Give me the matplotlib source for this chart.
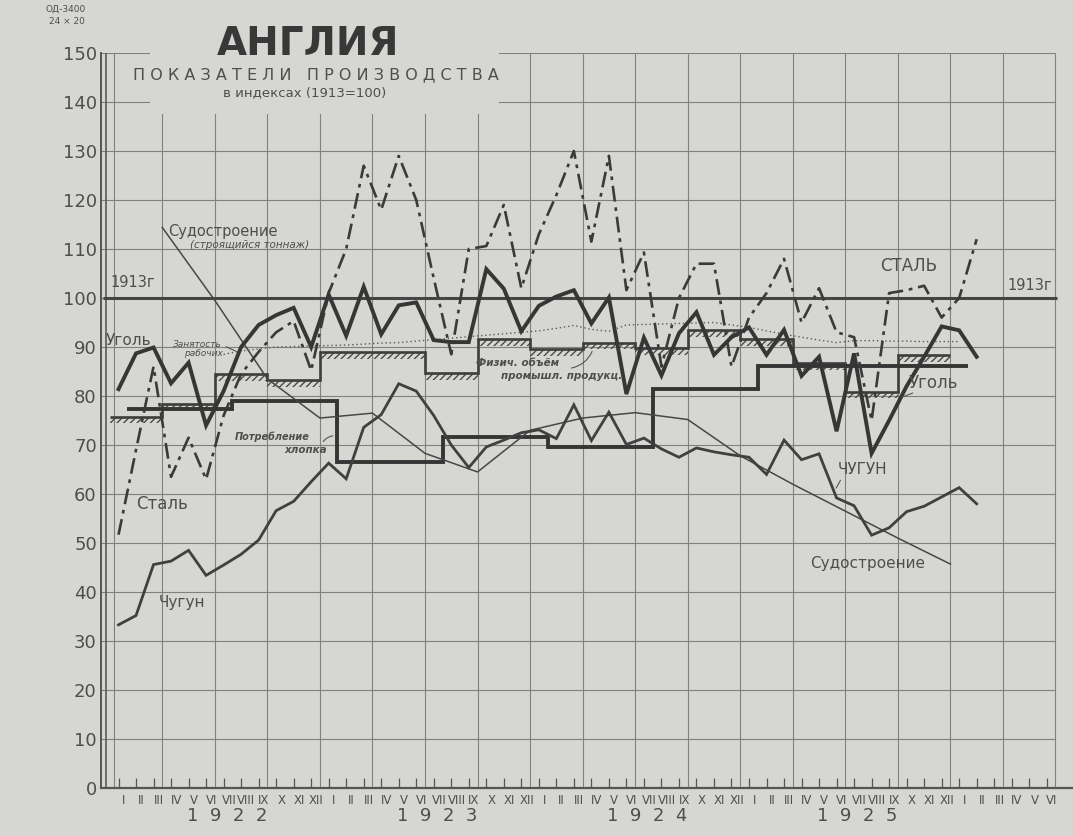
import numpy as np
import matplotlib
matplotlib.use("Agg")
import matplotlib.pyplot as plt
from matplotlib.patches import Rectangle

plt.rcParams['font.family'] = ['DejaVu Sans']

# ---------------- data (month index 0 = January 1922) ----------------
coal = [81.4, 88.7, 89.9, 82.6, 86.8, 74.0, 81.0, 90.0, 94.5, 96.5, 98.0, 90.0,
        100.7, 92.3, 102.3, 92.6, 98.5, 99.1, 91.4, 91.0, 91.0, 105.9, 101.9, 93.2,
        98.4, 100.3, 101.6, 94.8, 100.1, 80.4, 91.9, 84.2, 92.8, 97.1, 88.4, 92.0,
        94.0, 88.4, 93.5, 84.1, 88.0, 72.8, 88.7, 68.3, 75.0, 82.0, 88.0, 94.2,
        93.4, 88.0]
steel = [51.7, 69.0, 86.0, 63.5, 71.5, 63.0, 76.0, 84.5, 89.0, 93.0, 95.3, 85.2,
         101.0, 110.0, 127.0, 118.0, 129.0, 120.0, 104.0, 88.5, 110.0, 110.6, 119.0, 102.0,
         113.0, 121.0, 130.0, 111.5, 129.0, 101.6, 109.3, 86.0, 100.0, 107.0, 107.0, 86.0,
         96.0, 101.0, 108.0, 95.0, 102.0, 93.0, 92.0, 75.0, 101.0, 101.6, 102.5, 96.0,
         100.0, 112.0]
pig_iron = [33.3, 35.2, 45.6, 46.3, 48.5, 43.4, 45.5, 47.7, 50.6, 56.6, 58.5, 62.5,
            66.3, 63.1, 73.6, 76.2, 82.5, 81.0, 76.0, 70.0, 65.4, 69.6, 71.0, 72.5,
            73.1, 71.3, 78.2, 70.9, 76.7, 70.1, 71.4, 69.2, 67.5, 69.4, 68.6, 68.0,
            67.5, 64.0, 71.0, 67.0, 68.2, 59.2, 57.6, 51.6, 53.1, 56.4, 57.5, 59.4,
            61.3, 58.0]
employment_start = 6  # July 1922
employment = [88.5, 89.2, 89.6, 90.0, 90.1, 90.2,
              90.3, 90.4, 90.6, 90.8, 90.9, 91.2, 91.5, 91.8, 92.1, 92.4, 92.7, 93.0,
              93.3, 93.8, 94.4, 93.6, 93.2, 94.5, 94.6, 94.7, 94.8, 94.9, 95.0, 94.5,
              94.0, 93.3, 92.6, 92.0, 91.4, 90.9, 91.3, 91.3, 91.2, 91.2, 91.1, 91.1,
              91.1]
# quarterly (Q1 1922 .. Q4 1925)
phys_volume = [75.8, 78.4, 84.5, 83.3, 89.0, 89.0, 84.7, 91.6,
               89.5, 90.9, 89.7, 93.4, 91.6, 86.8, 80.9, 88.3]
# half-yearly steps
cotton = [77.4, 79.0, 66.5, 71.7, 69.5, 81.5, 86.2, 86.2]
# quarterly points (end of quarter)
shipbuilding = [114.4, 99.5, 83.5, 75.5, 76.5, 68.3, 64.5, 73.0,
                75.5, 76.6, 75.2, 67.8, 62.0, 56.5, 51.0, 45.7]
base_1913 = 100

roman = ["I", "II", "III", "IV", "V", "VI", "VII", "VIII", "IX", "X", "XI", "XII"]
years = ["1922", "1923", "1924", "1925"]
n_months = 54  # Jan 1922 .. Jun 1926

# ---------------- figure ----------------
BG = '#d6d6d2'
TXT = '#4e4e4e'
GRID = '#808080'

fig = plt.figure(figsize=(10.73, 8.36), dpi=100)
fig.patch.set_facecolor(BG)
ax = fig.add_axes([101 / 1073, 1 - 788 / 836, 1 - 101 / 1073, (788 - 53) / 836])
ax.set_facecolor(BG)
ax.set_xlim(-1, 54.5)
ax.set_ylim(0, 150)
for s in ['top', 'right']:
    ax.spines[s].set_visible(False)
ax.spines['left'].set_linewidth(1.4)
ax.spines['left'].set_color('#555555')
ax.spines['bottom'].set_linewidth(1.6)
ax.spines['bottom'].set_color('#555555')

# grid
ax.hlines(np.arange(10, 151, 10), -1, 53.5, color=GRID, lw=0.8, zorder=1)
ax.vlines(np.arange(2.5, 54, 3), 0, 150, color=GRID, lw=0.8, zorder=1)
ax.vlines(-0.72, 0, 150, color='#5a5a5a', lw=1.2, zorder=1)
ax.vlines(-0.25, 0, 150, color=GRID, lw=0.8, zorder=1)
# blank title block
ax.add_patch(Rectangle((1.8, 137.5), 19.9, 15, facecolor=BG, edgecolor='none',
                       zorder=1.5, clip_on=False))

# ticks
ax.set_xticks(np.arange(n_months))
ax.tick_params(axis='x', direction='in', length=7, width=0.9, colors='#555555',
               labelbottom=False)
ax.set_yticks(np.arange(0, 151, 10))
ax.tick_params(axis='y', length=0, pad=3, labelsize=13, labelcolor=TXT)

for j in range(n_months):
    ax.text(j + 0.3, -1.3, roman[j % 12], ha='center', va='top', fontsize=8.5,
            color=TXT, clip_on=False)
for i, y in enumerate(years):
    ax.text(6.2 + 12 * i, -5.8, '  '.join(y), ha='center', va='center',
            fontsize=13, color=TXT, clip_on=False)

# ---------------- series ----------------
x = np.arange(len(coal))
ax.hlines(base_1913, -0.9, 53.6, color='#454545', lw=2.2, zorder=4)

pv_edges = -0.5 + 3 * np.arange(len(phys_volume) + 1)
pv_ext = np.r_[phys_volume, phys_volume[-1]]
ax.fill_between(pv_edges, pv_ext - 1.4, pv_ext, step='post', facecolor='none',
                edgecolor='#4a4a4a', hatch='/////', linewidth=0, zorder=3)
ax.stairs(phys_volume, pv_edges, baseline=None, color='#3d3d3d', lw=1.9, zorder=4)

ct_edges = 0.5 + 6 * np.arange(len(cotton) + 1)
ax.stairs(cotton, ct_edges, baseline=None, color='#353535', lw=2.8, zorder=4)

ship_x = 2.5 + 3 * np.arange(len(shipbuilding))
ax.plot(ship_x, shipbuilding, color='#474747', lw=1.1, zorder=4)

emp_x = employment_start + np.arange(len(employment))
ax.plot(emp_x, employment, color='#5a5a5a', lw=1.0, ls=(0, (1, 2)), zorder=4)

ax.plot(x, pig_iron, color='#404040', lw=2.0, zorder=5, solid_joinstyle='miter')
ax.plot(x, steel, color='#3a3a3a', lw=1.9, ls=(0, (6, 2.2, 1.4, 2.2)), zorder=5)
ax.plot(x, coal, color='#363636', lw=2.8, zorder=6, solid_joinstyle='miter')

# ---------------- texts ----------------
ax.text(10.8, 151.8, 'АНГЛИЯ', ha='center', va='center', fontsize=28,
        fontweight='heavy', color='#383838', clip_on=False, zorder=7)
ax.text(11.3, 145.5, ' '.join('ПОКАЗАТЕЛИ') + '   ' + ' '.join('ПРОИЗВОДСТВА'),
        ha='center', va='center', fontsize=11.5, color=TXT, zorder=7)
ax.text(10.6, 141.9, 'в индексах (1913=100)', ha='center', va='center',
        fontsize=9.5, color=TXT, zorder=7)

lab = dict(color=TXT, zorder=7)
ax.text(5.96, 113.6, 'Судостроение', ha='center', va='center', fontsize=10.5, **lab)
ax.text(7.5, 110.9, '(строящийся тоннаж)', ha='center', va='center', fontsize=7.5,
        style='italic', **lab)
ax.text(0.82, 103.2, '1913г', ha='center', va='center', fontsize=10.5, **lab)
ax.text(52.05, 102.5, '1913г', ha='center', va='center', fontsize=10.5, **lab)
ax.text(0.58, 91.4, 'Уголь', ha='center', va='center', fontsize=11, **lab)
ax.text(46.5, 82.6, 'Уголь', ha='center', va='center', fontsize=12, **lab)
ax.text(4.5, 90.6, 'Занятость', ha='center', va='center', fontsize=6.5,
        style='italic', **lab)
ax.text(4.84, 88.7, 'рабочих', ha='center', va='center', fontsize=6.5,
        style='italic', **lab)
ax.text(2.5, 58.0, 'Сталь', ha='center', va='center', fontsize=12, **lab)
ax.text(45.1, 106.5, 'СТАЛЬ', ha='center', va='center', fontsize=12, **lab)
ax.text(3.6, 37.8, 'Чугун', ha='center', va='center', fontsize=11, **lab)
ax.text(42.5, 64.9, 'ЧУГУН', ha='center', va='center', fontsize=11, **lab)
ax.text(8.78, 71.6, 'Потребление', ha='center', va='center', fontsize=7,
        style='italic', fontweight='bold', **lab)
ax.text(10.67, 69.0, 'хлопка', ha='center', va='center', fontsize=7.5,
        style='italic', fontweight='bold', **lab)
ax.text(22.8, 86.7, 'Физич. объём', ha='center', va='center', fontsize=7.5,
        style='italic', fontweight='bold', **lab)
ax.text(25.3, 84.0, 'промышл. продукц.', ha='center', va='center', fontsize=7.5,
        style='italic', fontweight='bold', **lab)
ax.text(42.8, 45.8, 'Судостроение', ha='center', va='center', fontsize=11, **lab)

arrow = dict(arrowstyle='-', color='#555555', lw=0.8)
ax.annotate('', xy=(6.84, 88.9), xytext=(6.0, 90.3), arrowprops=arrow, zorder=7)
ax.annotate('', xy=(12.4, 71.9), xytext=(11.6, 70.2),
            arrowprops=dict(arrowstyle='-', color='#555555', lw=0.8,
                            connectionstyle='arc3,rad=-0.3'), zorder=7)
ax.annotate('', xy=(27.1, 89.6), xytext=(25.7, 85.6),
            arrowprops=dict(arrowstyle='-', color='#555555', lw=0.8,
                            connectionstyle='arc3,rad=0.3'), zorder=7)
ax.annotate('', xy=(40.9, 60.7), xytext=(41.3, 63.3), arrowprops=arrow, zorder=7)
ax.annotate('', xy=(44.6, 79.6), xytext=(45.5, 80.8), arrowprops=arrow, zorder=7)

fig.text(66 / 1073, 1 - 9 / 836, 'ОД-3400', fontsize=6.5, ha='center', va='center',
         color=TXT)
fig.text(67 / 1073, 1 - 22 / 836, '24 × 20', fontsize=6.5, ha='center', va='center',
         color=TXT)

fig.savefig('out.png', dpi=100, facecolor=BG)
